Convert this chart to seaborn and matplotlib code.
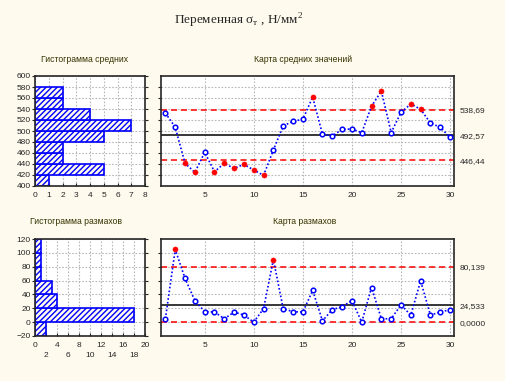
import numpy as np
import pandas as pd
import seaborn as sns
import matplotlib.pyplot as plt

# sample means and ranges
sample_no = list(range(1, 31))
means = [532.7, 506.7, 441.2, 424.8, 461.2, 426.0, 441.2, 432.0, 439.4, 429.0,
         419.4, 465.5, 509.0, 518.0, 521.0, 561.8, 494.0, 491.0, 503.0, 503.6,
         497.0, 545.0, 572.7, 497.0, 534.0, 549.0, 539.5, 514.5, 506.7, 488.5]
ranges = [4.9, 104.9, 63.1, 31.1, 15.1, 14.6, 4.9, 14.6, 10.2, 0.0,
          19.5, 90.3, 19.5, 15.1, 14.6, 45.7, 1.9, 18.0, 22.3, 31.1,
          0.0, 50.0, 4.9, 4.9, 24.8, 10.2, 59.5, 10.2, 14.6, 18.0]

x_ucl, x_cl, x_lcl = 538.69, 492.57, 446.44
r_ucl, r_cl, r_lcl = 80.139, 24.533, 0.0
x_lim_labels = ["538,69", "492,57", "446,44"]
r_lim_labels = ["80,139", "24,533", "0,0000"]

# histogram bins (bin start) and counts
mean_bins = [400, 420, 440, 460, 480, 500, 520, 540, 560]
mean_counts = [1, 5, 2, 2, 5, 7, 4, 2, 2]
range_bins = [-20, 0, 20, 40, 60, 80, 100]
range_counts = [2, 18, 4, 3, 1, 1, 1]

bg = '#FFFAEE'
sns.set_style('white')
plt.rcParams['font.family'] = ['Liberation Sans', 'DejaVu Sans']
plt.rcParams['axes.linewidth'] = 1.2
plt.rcParams['mathtext.fontset'] = 'custom'
plt.rcParams['mathtext.rm'] = 'Liberation Serif'

fig = plt.figure(figsize=(5.05, 3.81), dpi=100, facecolor=bg)
W, H = 505, 381


def box(l, t, r, b):
    return [l / W, 1 - b / H, (r - l) / W, (b - t) / H]


ax_hm = fig.add_axes(box(35, 76, 145, 186))
ax_xm = fig.add_axes(box(161, 76, 454, 186))
ax_hr = fig.add_axes(box(35, 239, 145, 336))
ax_xr = fig.add_axes(box(161, 239, 454, 336))

grid_kw = dict(color='#b8b8b8', linestyle=(0, (1.5, 1.5)), linewidth=0.8)
fs = 6


def hist(ax, bins, counts, width, ylim, xlim):
    centers = np.array(bins) + width / 2
    edges = list(bins) + [bins[-1] + width]
    sns.histplot(y=centers, weights=counts, bins=edges, ax=ax, color=bg,
                 edgecolor='#0000ff', linewidth=1.2, hatch='//////', alpha=1)
    ax.set_ylim(*ylim)
    ax.set_xlim(*xlim)
    ax.set_xlabel('')
    ax.set_ylabel('')
    ax.set_yticks(np.arange(ylim[0], ylim[1] + 1, 20))
    ax.grid(True, **grid_kw)
    ax.set_axisbelow(True)
    ax.tick_params(axis='y', labelsize=fs, length=2, direction='out', pad=1,
                   left=True, right=True)
    ax.tick_params(axis='x', labelsize=fs, length=2, direction='in', pad=4,
                   bottom=True)


def control(ax, vals, ucl, cl, lcl, ylim, labels, yticks):
    df = pd.DataFrame({'n': sample_no, 'v': vals})
    df['out'] = (df['v'] > ucl) | (df['v'] < lcl)
    ax.axhline(ucl, color='#ff0000', linestyle=(0, (4, 2.5)), lw=1.1, zorder=2)
    ax.axhline(lcl, color='#ff0000', linestyle=(0, (4, 2.5)), lw=1.1, zorder=2)
    ax.axhline(cl, color='black', lw=1.1, zorder=2)
    sns.lineplot(data=df, x='n', y='v', ax=ax, color='#0000ff',
                 linestyle=(0, (1, 1.3)), lw=1.2, zorder=3)
    ok = df[~df['out']]
    bad = df[df['out']]
    sns.scatterplot(data=ok, x='n', y='v', ax=ax, marker='o', s=11,
                    facecolor='white', edgecolor='#0000ff', linewidth=1.1,
                    zorder=4)
    sns.scatterplot(data=bad, x='n', y='v', ax=ax, marker='o', s=14,
                    color='#ff0000', edgecolor='#ff0000', zorder=4)
    ax.set_xlim(0.55, 30.4)
    ax.set_ylim(*ylim)
    ax.set_xticks([5, 10, 15, 20, 25, 30])
    ax.set_yticks(yticks)
    ax.set_yticklabels([])
    ax.set_xlabel('')
    ax.set_ylabel('')
    ax.grid(True, **grid_kw)
    ax.set_axisbelow(True)
    ax.tick_params(axis='x', labelsize=fs, length=2, direction='in', pad=4)
    ax.tick_params(axis='y', length=2, direction='out', left=True, right=True)
    tw = ax.twinx()
    tw.set_ylim(*ylim)
    tw.set_yticks([ucl, cl, lcl])
    tw.set_yticklabels(labels)
    tw.tick_params(axis='y', labelsize=fs, length=0, pad=4)
    for s in tw.spines.values():
        s.set_visible(False)


hist(ax_hm, mean_bins, mean_counts, 20, (400, 600), (0, 8))
ax_hm.set_xticks(range(0, 9))

hist(ax_hr, range_bins, range_counts, 20, (-20, 120), (0, 20))
ax_hr.set_xticks(range(0, 21, 2))
ax_hr.set_xticklabels([str(v) if v % 4 == 0 else '\n' + str(v)
                       for v in range(0, 21, 2)], linespacing=1.6)

tkw = dict(fontsize=6.2, color='#333300', ha='center', va='center')
fig.text(85 / W, 1 - 59 / H, 'Гистограмма средних', **tkw)
fig.text(303 / W, 1 - 59 / H, 'Карта средних значений', **tkw)
fig.text(76 / W, 1 - 221 / H, 'Гистограмма размахов', **tkw)
fig.text(305 / W, 1 - 221 / H, 'Карта размахов', **tkw)

control(ax_xm, means, x_ucl, x_cl, x_lcl, (400, 600), x_lim_labels,
        range(420, 600, 20))
control(ax_xr, ranges, r_ucl, r_cl, r_lcl, (-20, 120), r_lim_labels,
        range(0, 120, 20))

fig.text(239 / W, 1 - 21 / H, r'Переменная σ$_{\mathrm{т}}$ , Н/мм$^{\mathrm{2}}$',
         fontsize=9.5, family=['Liberation Serif', 'DejaVu Serif'],
         ha='center', va='center')

fig.savefig('out.png', dpi=100, facecolor=bg)
